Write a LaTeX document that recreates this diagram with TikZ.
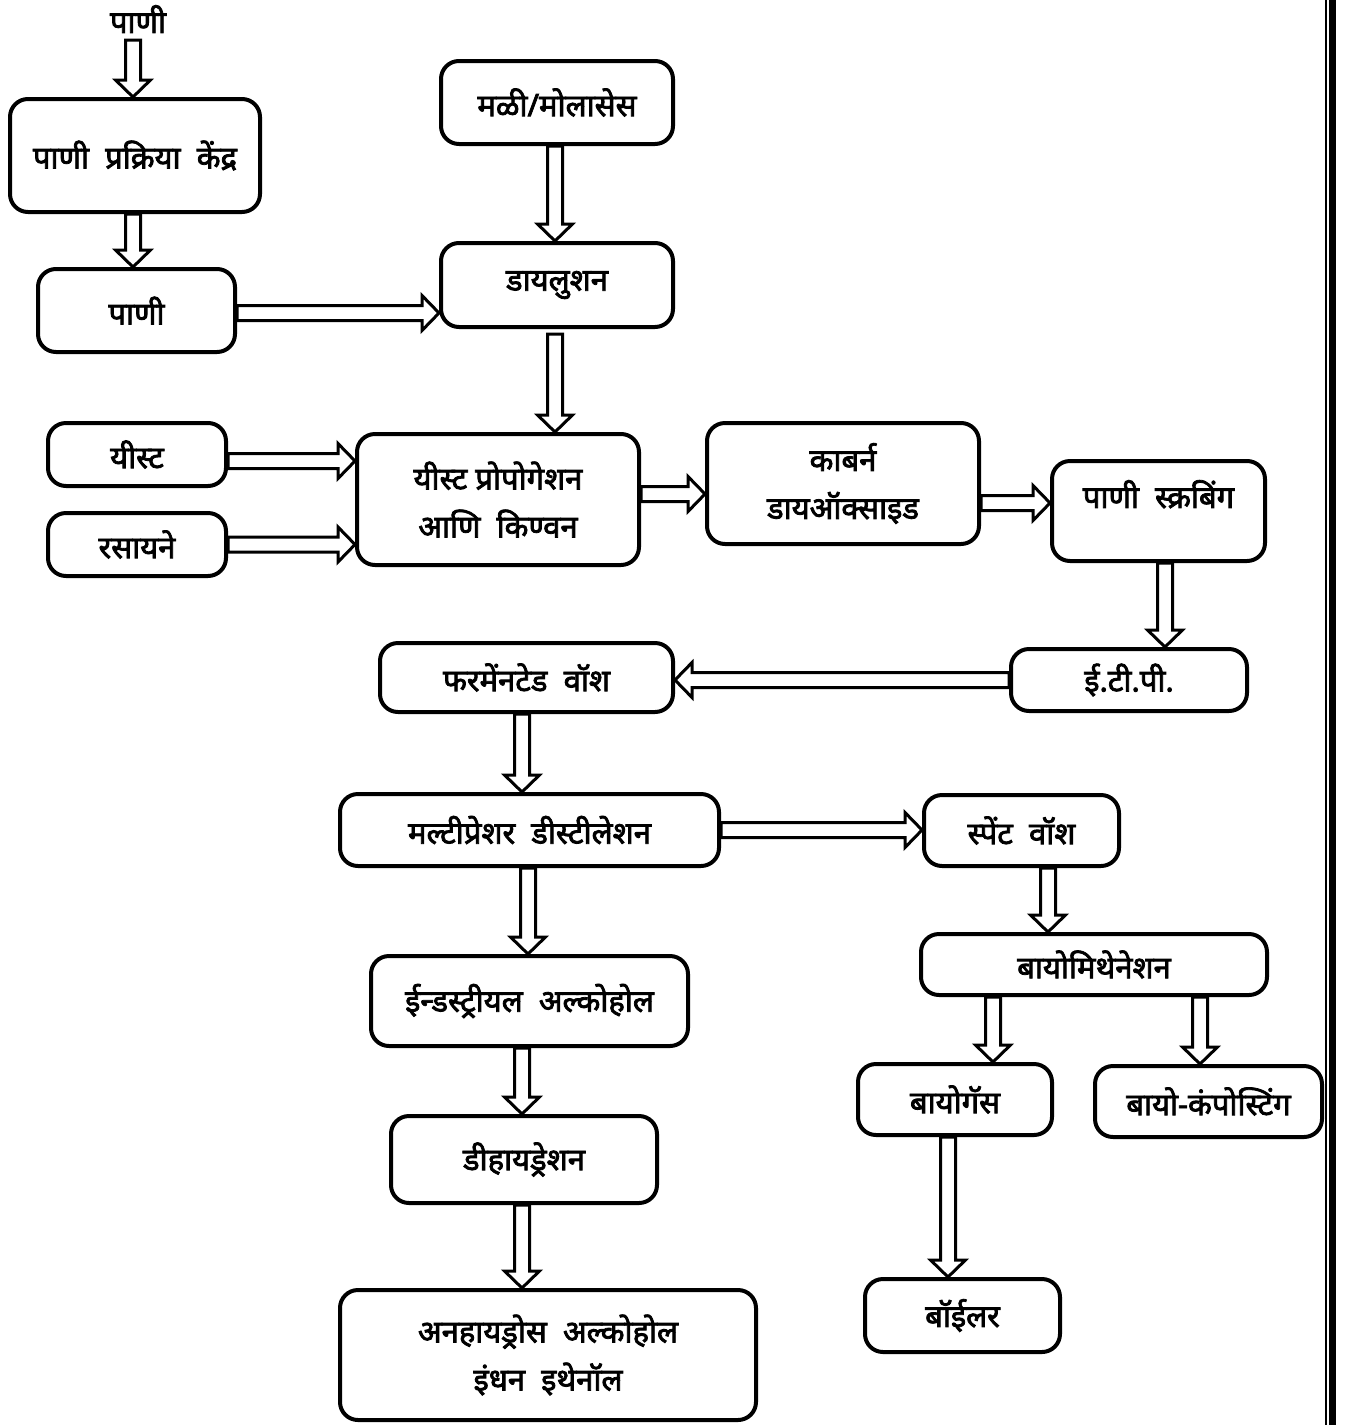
\documentclass[tikz,border=0pt]{standalone}
\usepackage{fontspec}
\newfontfamily\deva[Script=Devanagari, FakeBold=2.5]{Noto Sans}
\usetikzlibrary{calc}

\begin{document}
\begin{tikzpicture}[
  x=1pt, y=-1pt,
  box/.style={draw, line width=4pt, rounded corners=18pt, align=center,
    inner sep=0pt, font=\deva\fontsize{31}{48}\selectfont},
  lbl/.style={font=\deva\fontsize{31}{36}\selectfont, inner sep=0pt},
  varrow/.style={line width=3pt, line join=miter, to path={
    let \p1=(\tikztostart), \p2=(\tikztotarget), \n1={sign(\y2-\y1)} in
    ({\x1+7.5pt},{\y1}) -- ({\x1+7.5pt},{\y2-(\n1)*17pt}) -- ({\x1+17.5pt},{\y2-(\n1)*17pt})
    -- ({\x1},{\y2}) -- ({\x1-17.5pt},{\y2-(\n1)*17pt}) -- ({\x1-7.5pt},{\y2-(\n1)*17pt})
    -- ({\x1-7.5pt},{\y1}) -- cycle}},
  harrow/.style={line width=3pt, line join=miter, to path={
    let \p1=(\tikztostart), \p2=(\tikztotarget), \n1={sign(\x2-\x1)} in
    ({\x1},{\y1+7.5pt}) -- ({\x2-(\n1)*17pt},{\y1+7.5pt}) -- ({\x2-(\n1)*17pt},{\y1+17.5pt})
    -- ({\x2},{\y1}) -- ({\x2-(\n1)*17pt},{\y1-17.5pt}) -- ({\x2-(\n1)*17pt},{\y1-7.5pt})
    -- ({\x1},{\y1-7.5pt}) -- cycle}}
]
  \useasboundingbox (0,0) rectangle (1349,1425);

  % left column: water
  \node[lbl] (w_top) at (138,19) {पाणी};
  \node[box, minimum width=250, minimum height=113] (w_plant) at (135,155.5) {पाणी\ \ प्रक्रिया\ \ केंद्र};
  \node[box, minimum width=197, minimum height=83] (w_water) at (136.5,310.5) {पाणी};
  \node[box, minimum width=178, minimum height=63] (yeast) at (137,454.5) {यीस्ट};
  \node[box, minimum width=178, minimum height=63] (chem) at (137,544.5) {रसायने};

  % molasses and fermentation
  \node[box, minimum width=232, minimum height=83] (molasses) at (557,102.5) {मळी/मोलासेस};
  \node[box, minimum width=232, minimum height=84] (dilution) at (557,285) {डायलुशन};
  \node[box, minimum width=282, minimum height=131] (ferment) at (498,499.5) {यीस्ट प्रोपोगेशन\\आणि\ \ किण्वन};
  \node[box, minimum width=272, minimum height=121] (co2) at (843,483.5) {काबर्न\\डायऑक्साइड};
  \node[box, minimum width=213, minimum height=100, text depth=34pt] (scrub) at (1158.5,511) {पाणी\ \ स्क्रबिंग};
  \node[box, minimum width=236, minimum height=62] (etp) at (1129,680) {ई.टी.पी.};

  % distillation
  \node[box, minimum width=293, minimum height=69] (wash) at (526.5,677.5) {फरमेंनटेड\ \ वॉश};
  \node[box, minimum width=379, minimum height=72] (distil) at (529.5,830) {मल्टीप्रेशर\ \ डीस्टीलेशन};
  \node[box, minimum width=317, minimum height=90] (ind_alc) at (529.5,1001) {ईन्डस्ट्रीयल\ \ अल्कोहोल};
  \node[box, minimum width=266, minimum height=87] (dehyd) at (524,1159.5) {डीहायड्रेशन};
  \node[box, minimum width=416, minimum height=130] (anhyd) at (548,1355) {अनहायड्रोस\ \ अल्कोहोल\\इंधन\ \ इथेनॉल};

  % spent wash
  \node[box, minimum width=195, minimum height=71] (spent) at (1021.5,830.5) {स्पेंट\ \ वॉश};
  \node[box, minimum width=346, minimum height=61] (biometh) at (1094,964.5) {बायोमिथेनेशन};
  \node[box, minimum width=194, minimum height=71] (biogas) at (955,1099.5) {बायोगॅस};
  \node[box, minimum width=227, minimum height=71] (compost) at (1208.5,1101.5) {बायो-कंपोस्टिंग};
  \node[box, minimum width=195, minimum height=73] (boiler) at (962.5,1315.5) {बॉईलर};

  % connectors
  \draw[varrow] ([xshift=-5pt,yshift=-7pt]w_top.south) to (w_plant.north);
  \draw[varrow] ([xshift=-2pt]w_plant.south) to (w_water.north);
  \draw[harrow] ([yshift=-2.5pt]w_water.east) to (dilution.west);
  \draw[varrow] ([xshift=-2pt]molasses.south) to (dilution.north);
  \draw[varrow] ([xshift=-2pt,yshift=-5pt]dilution.south) to (ferment.north);
  \draw[harrow] ([yshift=-6.5pt]yeast.east) to (ferment.west);
  \draw[harrow] (chem.east) to (ferment.west);
  \draw[harrow] ([yshift=5.5pt]ferment.east) to (co2.west);
  \draw[harrow] ([yshift=-19.5pt]co2.east) to (scrub.west);
  \draw[varrow] ([xshift=6.5pt]scrub.south) to (etp.north);
  \draw[harrow] (etp.west) to (wash.east);
  \draw[varrow] ([xshift=-4.5pt]wash.south) to (distil.north);
  \draw[harrow] (distil.east) to (spent.west);
  \draw[varrow] ([xshift=-1.5pt]distil.south) to (ind_alc.north);
  \draw[varrow] ([xshift=-7.5pt]ind_alc.south) to (dehyd.north);
  \draw[varrow] ([xshift=-2pt]dehyd.south) to (anhyd.north);
  \draw[varrow] ([xshift=26.5pt]spent.south) to (biometh.north);
  \draw[varrow] ([xshift=-101pt]biometh.south) to (biogas.north);
  \draw[varrow] ([xshift=106pt]biometh.south) to (compost.north);
  \draw[varrow] ([xshift=-7pt]biogas.south) to (boiler.north);

  % page edge rule
  \draw[line width=1.5pt] (1326,0) -- (1326,1425);
  \draw[line width=7pt] (1332.5,0) -- (1332.5,1425);
\end{tikzpicture}
\end{document}
